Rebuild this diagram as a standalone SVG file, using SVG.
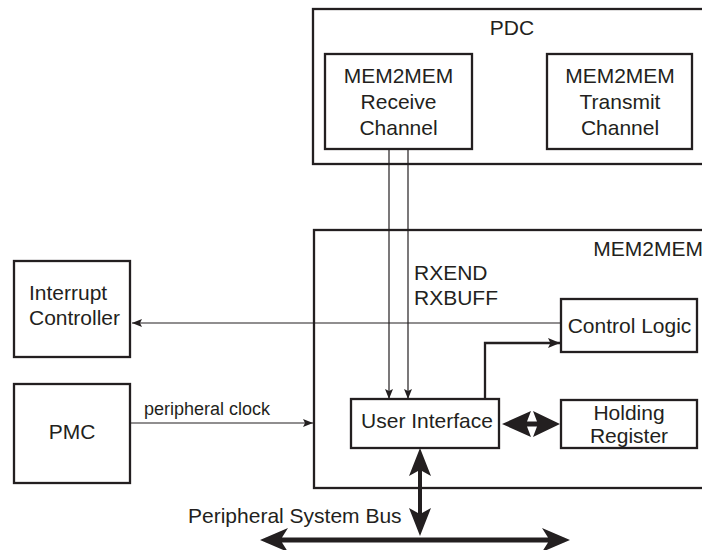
<svg xmlns="http://www.w3.org/2000/svg" width="702" height="550" viewBox="0 0 702 550">
<style>
.box{fill:#fff;stroke:#231f20;stroke-width:2.3}
.frame{fill:none;stroke:#231f20;stroke-width:2.3}
.t{font-family:"Liberation Sans",Arial,sans-serif;font-size:21px;fill:#231f20}
.c{text-anchor:middle}
.thin{fill:none;stroke:#231f20;stroke-width:1.2}
.med{fill:none;stroke:#231f20;stroke-width:2.3}
.big{fill:#231f20;stroke:none}
</style>
<defs>
<marker id="a" viewBox="0 0 10 8" refX="10" refY="4" markerWidth="10" markerHeight="8" markerUnits="userSpaceOnUse" orient="auto">
<path d="M0,0 L10,4 L0,8 L2,4 z" fill="#231f20"/>
</marker>
<marker id="b" viewBox="0 0 12 10" refX="12" refY="5" markerWidth="12" markerHeight="10" markerUnits="userSpaceOnUse" orient="auto">
<path d="M0,0 L12,5 L0,10 L2.5,5 z" fill="#231f20"/>
</marker>
</defs>
<rect width="702" height="550" fill="#fff"/>

<g id="pdc">
<rect class="frame" x="313" y="9" width="420" height="155"/>
<text class="t c" x="512" y="35">PDC</text>
</g>
<g id="rx">
<rect class="box" x="325" y="54" width="147" height="95"/>
<text class="t c" x="398.5" y="83">MEM2MEM</text>
<text class="t c" x="398.5" y="109">Receive</text>
<text class="t c" x="398.5" y="135">Channel</text>
</g>
<g id="tx">
<rect class="box" x="547" y="54" width="145" height="95"/>
<text class="t c" x="620" y="83">MEM2MEM</text>
<text class="t c" x="620" y="109">Transmit</text>
<text class="t c" x="620" y="135">Channel</text>
</g>
<g id="mem2mem">
<rect class="frame" x="314" y="230" width="420" height="258"/>
<text class="t" x="703" y="256" text-anchor="end">MEM2MEM</text>
</g>
<g id="ctrl">
<rect class="box" x="561" y="299" width="136" height="53"/>
<text class="t c" x="629.5" y="333">Control Logic</text>
</g>
<g id="ui">
<rect class="box" x="351" y="399" width="148" height="49"/>
<text class="t c" x="427" y="428">User Interface</text>
</g>
<g id="hold">
<rect class="box" x="561" y="400" width="136" height="48"/>
<text class="t c" x="629" y="420">Holding</text>
<text class="t c" x="629" y="443">Register</text>
</g>
<g id="intc">
<rect class="box" x="14" y="261" width="116" height="96"/>
<text class="t" x="29" y="300">Interrupt</text>
<text class="t" x="29" y="325">Controller</text>
</g>
<g id="pmc">
<rect class="box" x="14" y="384" width="116" height="99"/>
<text class="t c" x="72" y="439">PMC</text>
</g>

<g id="connectors">
<line class="thin" x1="389" y1="149" x2="389" y2="399" marker-end="url(#a)"/>
<line class="thin" x1="408" y1="149" x2="408" y2="399" marker-end="url(#a)"/>
<text class="t" x="414" y="280">RXEND</text>
<text class="t" x="414" y="305">RXBUFF</text>
<line class="thin" x1="561" y1="323" x2="132" y2="323" marker-end="url(#a)"/>
<line class="thin" x1="130" y1="423" x2="313" y2="423" marker-end="url(#a)"/>
<text class="t" x="144" y="415" style="font-size:18px">peripheral clock</text>
<path class="med" d="M485,398 V343 H560" marker-end="url(#b)"/>
<polygon class="big" points="502,424 531,411 527,421.5 537,421.5 533,411 560,424 533,437 537,426.5 527,426.5 531,437"/>
<polygon class="big" points="420,448 431,476 422,471 422,513 431,508 420,536 409,508 418,513 418,471 409,476"/>
<polygon class="big" points="260,540 288,528 282,537.5 548,537.5 542,528 570,540 542,552 548,542.5 282,542.5 288,552"/>
<text class="t" x="188" y="523">Peripheral System Bus</text>
</g>
</svg>
